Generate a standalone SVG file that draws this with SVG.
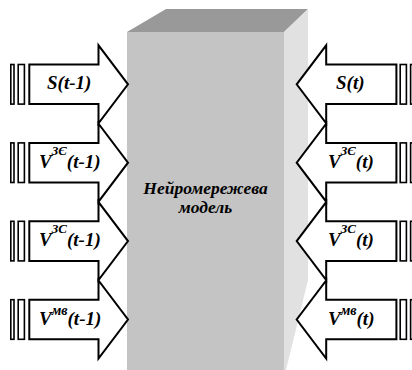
<svg xmlns="http://www.w3.org/2000/svg" width="412" height="370" viewBox="0 0 412 370">
<style>
.arr{fill:#fff;stroke:#000;stroke-width:2;stroke-linejoin:miter}
.bar{fill:#fff;stroke:#000;stroke-width:1.6}
.lbl{font-size:19px;fill:#000}
.sup{font-size:13px}
.sm{font-size:14px}
.ctr{font-size:17.5px;fill:#000;text-anchor:middle}
</style>
<defs>
<g id="arrL">
<polygon class="arr" points="29.3,-19.8 98.5,-19.8 98.5,-39 128,0 98.5,39 98.5,19.8 29.3,19.8"/>
<rect class="bar" x="10.8" y="-19.8" width="3.2" height="39.6"/>
<rect class="bar" x="18.2" y="-19.8" width="6.2" height="39.6"/>
</g>
<g id="arrR">
<polygon class="arr" points="396.4,-19.8 326.2,-19.8 326.2,-39 296.7,0 326.2,39 326.2,19.8 396.4,19.8"/>
<rect class="bar" x="400.2" y="-19.8" width="6.2" height="39.6"/>
<rect class="bar" x="410.6" y="-19.8" width="3.2" height="39.6"/>
</g>
</defs>
<g font-family="'Liberation Serif', 'Times New Roman', 'DejaVu Serif', serif" font-weight="bold" font-style="italic">
<g id="model">
<polygon fill="#999999" points="127,32 166,9 308,9 284,32"/>
<polygon fill="#e1e1e1" points="284,32 308,9 308,280 286,370 284,370"/>
<rect fill="#c4c4c4" x="127" y="32" width="157" height="340"/>
<text class="ctr" x="205.5" y="194">Нейромережева</text>
<text class="ctr" x="205.5" y="213">модель</text>
</g>
<g id="connectors">
<g id="in1" transform="translate(0,84.3)"><use href="#arrL"/><text class="lbl" x="47" y="5">S(t-1)</text></g>
<g id="in2" transform="translate(0,162.7)"><use href="#arrL"/><text class="lbl" x="39" y="5.3">V<tspan class="sup" dy="-13">ЗЄ</tspan><tspan dy="13">(t-1)</tspan></text></g>
<g id="in3" transform="translate(0,241.1)"><use href="#arrL"/><text class="lbl" x="39" y="5.3">V<tspan class="sup" dy="-13">ЗС</tspan><tspan dy="13">(t-1)</tspan></text></g>
<g id="in4" transform="translate(0,319.5)"><use href="#arrL"/><text class="lbl" x="39" y="5.3">V<tspan class="sm" dy="-10">мв</tspan><tspan dy="10">(t-1)</tspan></text></g>
<g id="out1" transform="translate(0,84.3)"><use href="#arrR"/><text class="lbl" x="336" y="5">S(t)</text></g>
<g id="out2" transform="translate(0,162.7)"><use href="#arrR"/><text class="lbl" x="328" y="5.3">V<tspan class="sup" dy="-13">ЗЄ</tspan><tspan dy="13">(t)</tspan></text></g>
<g id="out3" transform="translate(0,241.1)"><use href="#arrR"/><text class="lbl" x="328" y="5.3">V<tspan class="sup" dy="-13">ЗС</tspan><tspan dy="13">(t)</tspan></text></g>
<g id="out4" transform="translate(0,319.5)"><use href="#arrR"/><text class="lbl" x="328" y="5.3">V<tspan class="sm" dy="-10">мв</tspan><tspan dy="10">(t)</tspan></text></g>
</g>
</g>
</svg>
